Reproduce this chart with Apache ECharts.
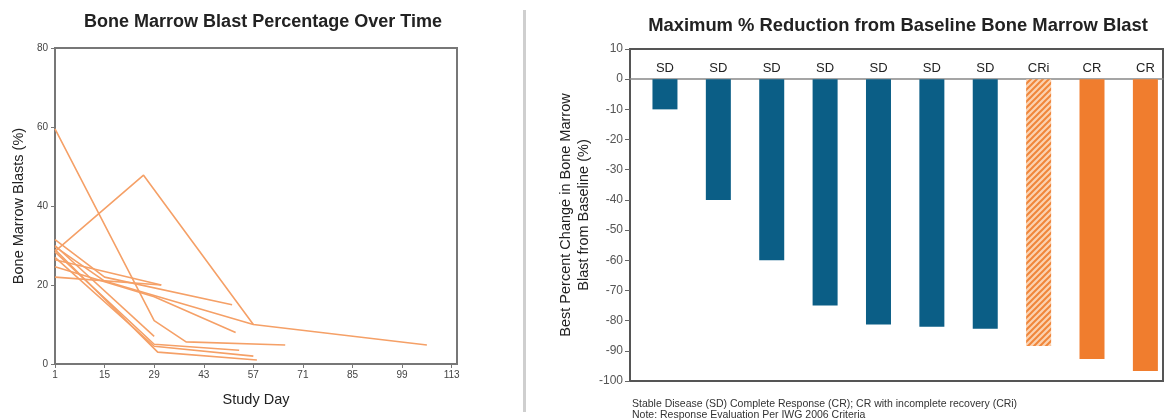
<!DOCTYPE html>
<html>
<head>
<meta charset="utf-8">
<script src="https://cdn.jsdelivr.net/npm/echarts@6/dist/echarts.min.js"></script>
<style>html,body{margin:0;padding:0;background:#fff}#c{width:1170px;height:420px}</style>
</head>
<body>
<div id="c"></div>
<script>
// ---------- Left chart data: bone marrow blasts (%) by study day ----------
const dayTicks = [1, 15, 29, 43, 57, 71, 85, 99, 113];
const blastTicks = [0, 20, 40, 60, 80];
const patient1 = [[1, 59.5], [29, 11], [38, 5.6], [66, 4.8]];
const patient2 = [[1, 28.5], [26, 47.8], [57, 10], [106, 4.8]];
const patient3 = [[1, 31.5], [15, 22], [51, 15]];
const patient4 = [[1, 29.7], [15, 21], [57, 10]];
const patient5 = [[1, 24.6], [29, 17], [52, 8]];
const patient6 = [[1, 22], [31, 20]];
const patient7 = [[1, 26.4], [31, 20]];
const patient8 = [[1, 30], [29, 7]];
const patient9 = [[1, 28.4], [29, 5], [53, 3.5]];
const patient10 = [[1, 29], [30, 3], [58, 1]];
const patient11 = [[1, 27], [29, 4.5], [57, 2]];
const patients = [patient1, patient2, patient3, patient4, patient5, patient6,
                  patient7, patient8, patient9, patient10, patient11];

// ---------- Right chart data: best % change from baseline ----------
const responses = ['SD', 'SD', 'SD', 'SD', 'SD', 'SD', 'SD', 'CRi', 'CR', 'CR'];
const bestChange = [-10, -40, -60, -75, -81.3, -82, -82.7, -88.4, -92.7, -96.7];
const patientPos = [1, 2, 3, 4, 5, 6, 7, 8, 9, 10];

// hatch pattern for CRi
const pc = document.createElement('canvas');
pc.width = 6; pc.height = 6;
const g = pc.getContext('2d');
g.fillStyle = '#fbd2b0'; g.fillRect(0, 0, 6, 6);
g.strokeStyle = '#f0863a'; g.lineWidth = 2;
g.beginPath();
g.moveTo(-1, 7); g.lineTo(7, -1);
g.moveTo(-4, 4); g.lineTo(4, -4);
g.moveTo(2, 10); g.lineTo(10, 2);
g.stroke();

const barColors = {
  SD: '#0b5e86',
  CR: '#f07d2e',
  CRi: { image: pc, repeat: 'repeat' }
};

const FONT = 'Liberation Sans, Arial, sans-serif';
const chart = echarts.init(document.getElementById('c'), null, { renderer: 'canvas' });

const lineSeries = patients.map((p, i) => ({
  type: 'line',
  name: 'P' + (i + 1),
  xAxisIndex: 0, yAxisIndex: 0,
  data: p,
  symbol: 'none',
  silent: true,
  lineStyle: { color: '#f5a067', width: 1.6 },
  z: 3
}));

const option = {
  animation: false,
  backgroundColor: '#fff',
  textStyle: { fontFamily: FONT },
  title: [
    { text: 'Bone Marrow Blast Percentage Over Time', left: 258, top: 8, textAlign: 'center',
      textStyle: { fontSize: 18, fontWeight: 'bold', color: '#222', fontFamily: FONT } },
    { text: 'Maximum % Reduction from Baseline Bone Marrow Blast', left: 893, top: 12, textAlign: 'center',
      textStyle: { fontSize: 18.4, fontWeight: 'bold', color: '#222', fontFamily: FONT } }
  ],
  grid: [
    { left: 55, top: 48, right: 713, bottom: 56, show: true, borderColor: '#777', borderWidth: 2, containLabel: false },
    { left: 630, top: 49, right: 7, bottom: 39, show: true, borderColor: '#555', borderWidth: 2, containLabel: false }
  ],
  xAxis: [
    { type: 'value', gridIndex: 0, min: 1, max: 114.5,
      name: 'Study Day', nameLocation: 'middle', nameGap: 28,
      nameTextStyle: { fontSize: 14.5, color: '#222' },
      axisLine: { show: true, lineStyle: { color: '#777', width: 2 } },
      axisTick: { show: true, length: 4, lineStyle: { color: '#777' }, customValues: dayTicks },
      axisLabel: { fontSize: 10, color: '#444', margin: 6, customValues: dayTicks },
      splitLine: { show: false } },
    { type: 'value', gridIndex: 1, min: 0.345, max: 10.33,
      axisLine: { show: true, onZero: true, lineStyle: { color: '#888', width: 1.5 } },
      axisTick: { show: false }, axisLabel: { show: false }, splitLine: { show: false } }
  ],
  yAxis: [
    { type: 'value', gridIndex: 0, min: 0, max: 80, interval: 20,
      name: 'Bone Marrow Blasts (%)', nameLocation: 'middle', nameGap: 29,
      nameTextStyle: { fontSize: 14.5, color: '#222' },
      axisLine: { show: true, lineStyle: { color: '#777', width: 2 } },
      axisTick: { show: true, length: 4, lineStyle: { color: '#777' }, customValues: blastTicks },
      axisLabel: { fontSize: 10, color: '#444', margin: 7, customValues: blastTicks },
      splitLine: { show: false } },
    { type: 'value', gridIndex: 1, min: -100, max: 10, interval: 10,
      name: 'Best Percent Change in Bone Marrow\nBlast from Baseline (%)', nameLocation: 'middle', nameGap: 37,
      nameTextStyle: { fontSize: 14.5, color: '#222', lineHeight: 18 },
      axisLine: { show: true, lineStyle: { color: '#555', width: 2 } },
      axisTick: { show: true, length: 5, lineStyle: { color: '#666' } },
      axisLabel: { fontSize: 12, color: '#555', margin: 7 },
      splitLine: { show: false } }
  ],
  series: lineSeries.concat([{
    type: 'bar',
    xAxisIndex: 1, yAxisIndex: 1,
    barWidth: 25,
    data: bestChange.map((v, i) => ({
      value: [patientPos[i], v],
      itemStyle: { color: barColors[responses[i]] },
      label: { formatter: responses[i] }
    })),
    label: { show: true, position: 'top', distance: 4, fontSize: 13, color: '#222' },
    silent: true,
    z: 2
  }]),
  graphic: [
    { type: 'rect', shape: { x: 523, y: 10, width: 3, height: 402 }, style: { fill: '#cfcfcf' }, silent: true },
    { type: 'text', left: 632, top: 399, style: { text: 'Stable Disease (SD) Complete Response (CR); CR with incomplete recovery (CRi)', fontSize: 10.5, fill: '#333', fontFamily: FONT } },
    { type: 'text', left: 632, top: 410, style: { text: 'Note: Response Evaluation Per IWG 2006 Criteria', fontSize: 10.5, fill: '#333', fontFamily: FONT } }
  ]
};
chart.setOption(option);
</script>
</body>
</html>
